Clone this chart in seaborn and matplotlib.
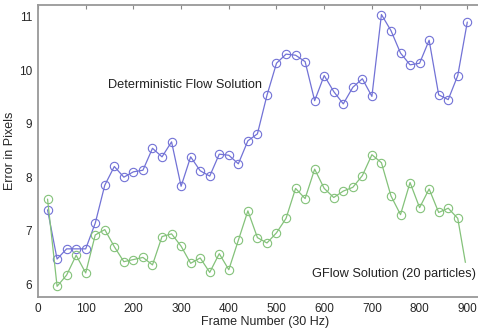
import numpy as np
import pandas as pd
import matplotlib
matplotlib.use("Agg")
import matplotlib.pyplot as plt
import seaborn as sns

frames = list(range(20, 901, 20))

deterministic = [7.39, 6.47, 6.66, 6.66, 6.66, 7.14, 7.85, 8.20, 8.00, 8.10,
                 8.13, 8.54, 8.38, 8.66, 7.83, 8.38, 8.12, 8.02, 8.43, 8.41,
                 8.25, 8.68, 8.81, 9.53, 10.13, 10.30, 10.28, 10.16, 9.43, 9.90,
                 9.60, 9.37, 9.68, 9.84, 9.51, 11.04, 10.74, 10.32, 10.10, 10.13,
                 10.56, 9.54, 9.45, 9.90, 10.90]

gflow = [7.59, 5.96, 6.17, 6.54, 6.21, 6.92, 7.02, 6.70, 6.42, 6.46,
         6.50, 6.36, 6.89, 6.94, 6.71, 6.39, 6.49, 6.22, 6.57, 6.27,
         6.82, 7.37, 6.87, 6.77, 6.96, 7.23, 7.79, 7.60, 8.15, 7.79,
         7.62, 7.74, 7.81, 8.03, 8.42, 8.27, 7.65, 7.30, 7.90, 7.43,
         7.78, 7.34, 7.42, 7.23, 6.20]

df = pd.DataFrame({"frame": frames, "det": deterministic, "gflow": gflow})

sns.set_style("white")
plt.rcParams['font.family'] = ['Liberation Sans', 'DejaVu Sans']

fig = plt.figure(figsize=(4.78, 3.28), dpi=100)
ax = fig.add_axes([0.0795, 0.0945, 0.948, 0.8905])

blue = "#7272d6"
green = "#84c27a"
sns.lineplot(data=df, x="frame", y="det", ax=ax, color=blue, lw=0.9,
             marker="o", markersize=6, markerfacecolor="none",
             markeredgecolor=blue, markeredgewidth=0.8)
sns.lineplot(data=df, x="frame", y="gflow", ax=ax, color=green, lw=0.9,
             marker="o", markersize=6, markerfacecolor="none",
             markeredgecolor=green, markeredgewidth=0.8)

ax.set_xlim(0, 950)
ax.set_ylim(5.76, 11.22)
ax.set_xticks(range(0, 901, 100))
ax.set_yticks([6, 7, 8, 9, 10, 11])
ax.tick_params(direction="in", length=3, width=0.8, color="#888888",
               labelsize=8.5, top=True, right=False, pad=4)
for s in ax.spines.values():
    s.set_color("#999999")
    s.set_linewidth(1.3)
ax.spines["right"].set_visible(False)

ax.set_xlabel("Frame Number (30 Hz)", fontsize=9, labelpad=1)
ax.set_ylabel("Error in Pixels", fontsize=9, labelpad=2)

ax.text(147, 9.72, "Deterministic Flow Solution", fontsize=9.2, va="center",
        color="#222222")
ax.text(918, 6.19, "GFlow Solution (20 particles)", fontsize=9.2, va="center",
        ha="right", color="#222222", backgroundcolor="white")

fig.savefig("out.png", dpi=100)
